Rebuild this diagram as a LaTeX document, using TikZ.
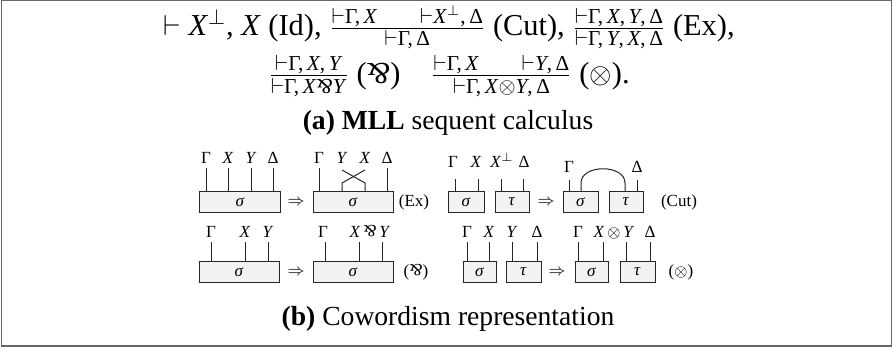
\documentclass[tikz,border=0pt]{standalone}
\usepackage{amsmath}
\usepackage{fontspec}
\setmainfont{Liberation Serif}
\usepackage{graphicx}
\newcommand{\iX}{\textit{X}}
\newcommand{\iY}{\textit{Y}}
\newcommand{\vd}{$\vdash$}
\newcommand{\mypar}{\rotatebox[origin=c]{180}{\&}}
\newcommand{\fr}[2]{$\frac{\text{#1}}{\text{#2}}$}
\begin{document}
\begin{tikzpicture}[x=0.5pt,y=-0.5pt,
  bx/.style={draw=black!85, fill=gray!10, line width=0.5pt, minimum height=10.5pt, inner sep=0pt, font=\fontsize{8.5}{10}\selectfont},
  lbl/.style={anchor=base, inner sep=0pt, font=\fontsize{8.5}{10}\selectfont},
  wire/.style={line width=0.5pt, draw=black!85},
  maintxt/.style={inner sep=0pt, font=\fontsize{15.2}{18}\selectfont},
  captxt/.style={inner sep=0pt, font=\fontsize{13.8}{16}\selectfont}]
\useasboundingbox (0,0) rectangle (893,349);
\draw[draw=gray!80!black, line width=0.7pt] (1.5,0.5) rectangle (891.5,346);

% sequent calculus
\node[maintxt] (l1) at (449,27) {\vd\ \iX$^{\bot}$, \iX\ (Id), \fr{\vd Γ,\,\iX\qquad\vd\iX$^{\bot}$,\,Δ}{\vd Γ,\,Δ} (Cut), \fr{\vd Γ,\,\iX,\,\iY,\,Δ}{\vd Γ,\,\iY,\,\iX,\,Δ} (Ex),};
\node[maintxt] (l2) at (449,76) {\fr{\vd Γ,\,\iX,\,\iY}{\vd Γ,\,\iX\mypar\iY} (\mypar)\quad \fr{\vd Γ,\,\iX\qquad\vd\iY,\,Δ}{\vd Γ,\,\iX$\otimes$\iY,\,Δ} ($\otimes$).};
\node[captxt] (capa) at (448,123) {\textbf{(a) MLL} sequent calculus};
\node[captxt] (capb) at (448,319) {\textbf{(b)} Cowordism representation};

% ---- Row 1: Ex
\node[bx, minimum width=40.5pt] (e1) at (240,202) {\textit{σ}};
\foreach \x/\n/\t in {206/a/Γ, 228/b/\iX, 251/c/\iY, 273/d/Δ} {
  \coordinate (e1\n) at (\x,168);
  \draw[wire] (e1\n) -- (e1\n |- e1.north);
  \node[lbl] (e1l\n) at (\x,163) {\t};
}
\node[lbl, anchor=center] (ar1) at (296,202) {$\Rightarrow$};
\node[bx, minimum width=40pt] (e2) at (353,202) {\textit{σ}};
\foreach \x/\n/\t in {319/a/Γ, 387/d/Δ} {
  \coordinate (e2\n) at (\x,168);
  \draw[wire] (e2\n) -- (e2\n |- e2.north);
  \node[lbl] (e2l\n) at (\x,163) {\t};
}
\coordinate (e2b) at (342,170);
\coordinate (e2c) at (365,170);
\draw[wire] (e2b |- e2.north) -- ++(0,-8) -- (e2c);
\draw[wire] (e2c |- e2.north) -- ++(0,-8) -- (e2b);
\node[lbl] (e2lb) at (342,163) {\iY};
\node[lbl] (e2lc) at (365,163) {\iX};
\node[lbl, anchor=center] (ex) at (414,202) {(Ex)};

% ---- Row 1: Cut
\node[bx, minimum width=18pt] (c1) at (466,202) {\textit{σ}};
\node[bx, minimum width=17pt] (c2) at (512,202) {\textit{τ}};
\foreach \x/\n/\b in {455/a/c1, 478/b/c1, 501/c/c2, 523/d/c2} {
  \coordinate (c\n) at (\x,179);
  \draw[wire] (c\n) -- (c\n |- \b.north);
}
\node[lbl] (cla) at (453,167) {Γ};
\node[lbl] (clb) at (476,167) {\iX};
\node[lbl] (clc) at (502,167) {\iX$^{\bot}$};
\node[lbl] (cld) at (524,167) {Δ};
\node[lbl, anchor=center] (ar2) at (546,202) {$\Rightarrow$};
\node[bx, minimum width=17.5pt] (c3) at (580.5,202) {\textit{σ}};
\node[bx, minimum width=17pt] (c4) at (626,202) {\textit{τ}};
\coordinate (c3a) at (569,180);
\coordinate (c4d) at (637,180);
\draw[wire] (c3a) -- (c3a |- c3.north);
\draw[wire] (c4d) -- (c4d |- c4.north);
\coordinate (cutL) at (581,183);
\coordinate (cutR) at (625,183);
\draw[wire] (cutL |- c3.north) -- (cutL) .. controls (581,164) and (625,164) .. (cutR) -- (cutR |- c4.north);
\node[lbl] (c3l) at (569,172) {Γ};
\node[lbl] (c4l) at (637,172) {Δ};
\node[lbl, anchor=center] (cut) at (679,202) {(Cut)};

% ---- Row 2: Par
\node[bx, minimum width=40pt] (p1) at (239,272) {\textit{σ}};
\foreach \x/\n/\t in {211/a/Γ, 245/b/\iX, 268/c/\iY} {
  \coordinate (p1\n) at (\x,242);
  \draw[wire] (p1\n) -- (p1\n |- p1.north);
  \node[lbl] (p1l\n) at (\x,237) {\t};
}
\node[lbl, anchor=center] (ar3) at (296,272) {$\Rightarrow$};
\node[bx, minimum width=40pt] (p2) at (353,272) {\textit{σ}};
\foreach \x/\n in {325/a, 359/b, 382/c} {
  \coordinate (p2\n) at (\x,242);
  \draw[wire] (p2\n) -- (p2\n |- p2.north);
}
\node[lbl] (p2la) at (323,237) {Γ};
\node[lbl] (p2lb) at (370,237) {\iX\,\mypar\,\iY};
\node[lbl, anchor=center] (par) at (416,272) {(\mypar)};

% ---- Row 2: Tensor
\node[bx, minimum width=16.5pt] (t1) at (479.5,272) {\textit{σ}};
\node[bx, minimum width=17.5pt] (t2) at (523.5,272) {\textit{τ}};
\foreach \x/\n/\b/\t in {467/a/t1/Γ, 489/b/t1/\iX, 512/c/t2/\iY, 537/d/t2/Δ} {
  \coordinate (t\n) at (\x,242);
  \draw[wire] (t\n) -- (t\n |- \b.north);
  \node[lbl] (tl\n) at (\x,237) {\t};
}
\node[lbl, anchor=center] (ar4) at (557,272) {$\Rightarrow$};
\node[bx, minimum width=16.5pt] (t3) at (591.5,272) {\textit{σ}};
\node[bx, minimum width=17.5pt] (t4) at (637.5,272) {\textit{τ}};
\foreach \x/\n/\b in {578/a/t3, 603/b/t3, 626/c/t4, 650/d/t4} {
  \coordinate (u\n) at (\x,242);
  \draw[wire] (u\n) -- (u\n |- \b.north);
}
\node[lbl] (ula) at (578,237) {Γ};
\node[lbl] (ulb) at (614,237) {\iX\,$\otimes$\,\iY};
\node[lbl] (uld) at (650,237) {Δ};
\node[lbl, anchor=center] (ten) at (681,272) {($\otimes$)};
\end{tikzpicture}
\end{document}
